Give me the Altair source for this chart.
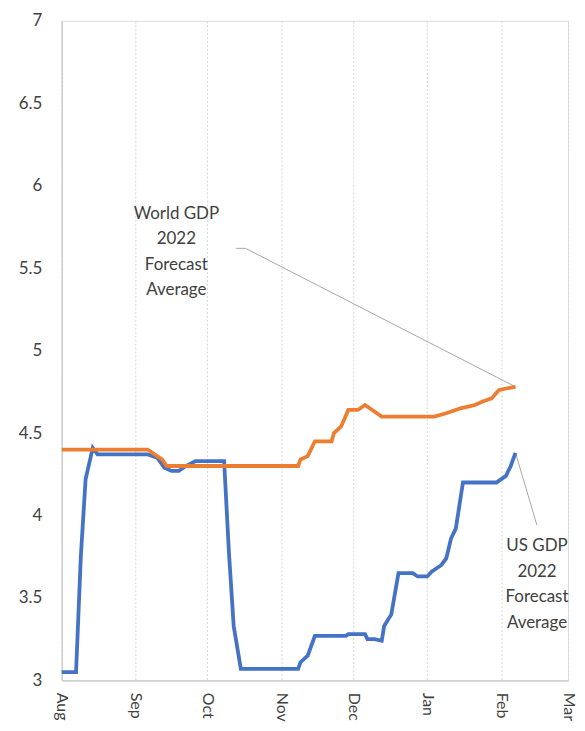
import altair as alt
import pandas as pd

# US GDP 2022 forecast average (blue)
us_dates = ["2021-08-01", "2021-08-07", "2021-08-09", "2021-08-11", "2021-08-14", "2021-08-16",
            "2021-09-06", "2021-09-10", "2021-09-13", "2021-09-16", "2021-09-19", "2021-09-22",
            "2021-09-26", "2021-10-08", "2021-10-10", "2021-10-12", "2021-10-15", "2021-11-08",
            "2021-11-09", "2021-11-12", "2021-11-15", "2021-11-28", "2021-11-29", "2021-12-06",
            "2021-12-07", "2021-12-10", "2021-12-13", "2021-12-14", "2021-12-17", "2021-12-20",
            "2021-12-26", "2021-12-28", "2022-01-01", "2022-01-03", "2022-01-07", "2022-01-09",
            "2022-01-11", "2022-01-13", "2022-01-16", "2022-01-30", "2022-02-03", "2022-02-05",
            "2022-02-07"]
us_vals = [3.05, 3.05, 3.75, 4.22, 4.41, 4.37,
           4.37, 4.35, 4.29, 4.27, 4.27, 4.30,
           4.33, 4.33, 3.78, 3.33, 3.07, 3.07,
           3.11, 3.15, 3.27, 3.27, 3.28, 3.28,
           3.25, 3.25, 3.24, 3.33, 3.40, 3.65,
           3.65, 3.63, 3.63, 3.66, 3.70, 3.74,
           3.86, 3.92, 4.20, 4.20, 4.24, 4.30,
           4.38]

# World GDP 2022 forecast average (orange)
world_dates = ["2021-08-01", "2021-09-06", "2021-09-09", "2021-09-12", "2021-09-14", "2021-11-08",
               "2021-11-09", "2021-11-12", "2021-11-15", "2021-11-22", "2021-11-23", "2021-11-26",
               "2021-11-29", "2021-12-03", "2021-12-06", "2021-12-09", "2021-12-13", "2022-01-04",
               "2022-01-09", "2022-01-15", "2022-01-21", "2022-01-24", "2022-01-26", "2022-01-28",
               "2022-01-31", "2022-02-03", "2022-02-07"]
world_vals = [4.40, 4.40, 4.37, 4.34, 4.30, 4.30,
              4.34, 4.36, 4.45, 4.45, 4.50, 4.54,
              4.64, 4.64, 4.67, 4.64, 4.60, 4.60,
              4.62, 4.65, 4.67, 4.69, 4.70, 4.71,
              4.76, 4.77, 4.78]

series_names = ["US", "World"]
series_colors = ["#4472C4", "#ED7D31"]

month_ticks = [(2021, 8), (2021, 9), (2021, 10), (2021, 11), (2021, 12), (2022, 1), (2022, 2), (2022, 3)]
y_ticks = [3, 3.5, 4, 4.5, 5, 5.5, 6, 6.5, 7]

# annotations (position = first text line)
world_label = "World GDP\n2022\nForecast\nAverage"
us_label = "US GDP\n2022\nForecast\nAverage"
world_label_pos = ("2021-09-18", 5.83)
us_label_pos = ("2022-02-16", 3.815)
world_leader = [("2021-10-13", 5.62, "2021-10-17", 5.62),
                ("2021-10-17", 5.62, world_dates[-1], world_vals[-1])]
us_leader = [(us_dates[-1], us_vals[-1], "2022-02-16", 3.94)]

df = pd.concat([
    pd.DataFrame({"date": us_dates, "value": us_vals, "series": "US"}),
    pd.DataFrame({"date": world_dates, "value": world_vals, "series": "World"}),
])

FONT = "Lato"
TXT = "#404040"

x_scale = alt.Scale(type="utc", domain=[alt.DateTime(year=2021, month=8, date=1, utc=True),
                                        alt.DateTime(year=2022, month=3, date=1, utc=True)], nice=False)
y_scale = alt.Scale(domain=[3, 7], nice=False, zero=False)

x_axis = alt.Axis(values=[alt.DateTime(year=y, month=m, date=1, utc=True) for y, m in month_ticks],
                  labelExpr="utcFormat(datum.value, '%b')", labelAngle=90, labelAlign="left",
                  labelBaseline="middle", labelPadding=12, labelFontSize=16, labelFont=FONT,
                  labelColor=TXT, ticks=False, domainColor="#c8c8c8", domainWidth=1.2,
                  grid=True, gridColor="#d6d6d6", gridDash=[2, 2], gridWidth=1, title=None,
                  labelOverlap=False, labelFlush=False)
y_axis = alt.Axis(values=y_ticks, format="~g", labelPadding=20, labelFontSize=17, labelFont=FONT,
                  labelColor=TXT, ticks=False, domainColor="#c8c8c8", domainWidth=1.2, grid=False,
                  title=None, labelFlush=False)

lines = alt.Chart(df).mark_line(strokeWidth=3.8, interpolate="linear").encode(
    x=alt.X("date:T", scale=x_scale, axis=x_axis),
    y=alt.Y("value:Q", scale=y_scale, axis=y_axis),
    color=alt.Color("series:N", scale=alt.Scale(domain=series_names, range=series_colors), legend=None),
)

leaders_df = pd.DataFrame(
    [{"x": a, "y": b, "x2": c, "y2": d} for a, b, c, d in world_leader + us_leader]
)
leaders = alt.Chart(leaders_df).mark_rule(color="#a6a6a6", strokeWidth=1).encode(
    x=alt.X("x:T", scale=x_scale), y=alt.Y("y:Q", scale=y_scale),
    x2="x2:T", y2="y2:Q",
)

labels_df = pd.DataFrame({
    "x": [world_label_pos[0], us_label_pos[0]],
    "y": [world_label_pos[1], us_label_pos[1]],
    "t": [world_label, us_label],
})
labels = alt.Chart(labels_df).mark_text(
    lineBreak="\n", lineHeight=25.7, fontSize=17, font=FONT, color=TXT,
    align="center", baseline="middle",
).encode(
    x=alt.X("x:T", scale=x_scale), y=alt.Y("y:Q", scale=y_scale), text="t:N",
)

chart = alt.layer(leaders, lines, labels).properties(
    width=509, height=663,
    autosize=alt.AutoSizeParams(type="none"),
    padding={"left": 54, "top": 11, "right": 9, "bottom": 45},
).configure_view(stroke=None).configure(background="white")

chart.save("out.html", embed_options={"renderer": "svg", "actions": False})
